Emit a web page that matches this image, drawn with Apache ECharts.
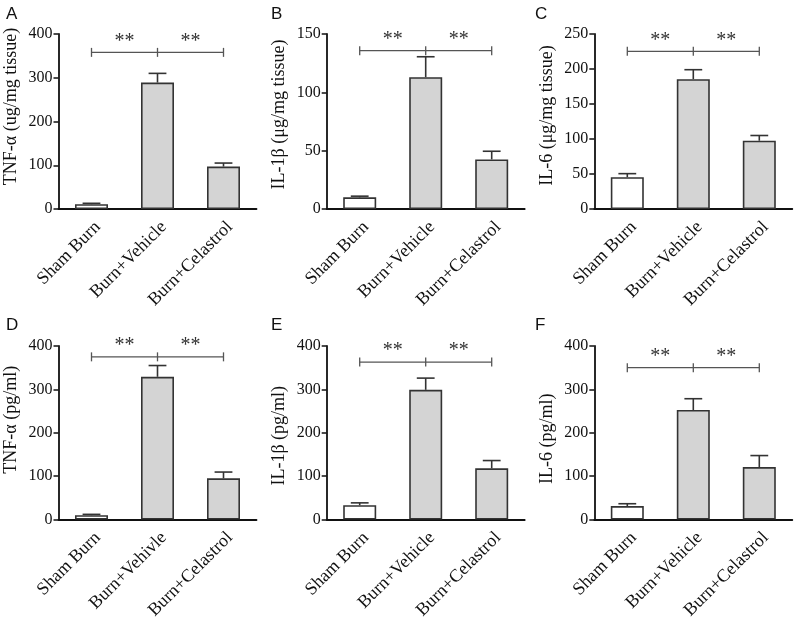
<!DOCTYPE html>
<html>
<head>
<meta charset="utf-8">
<script src="https://cdn.jsdelivr.net/npm/echarts@6/dist/echarts.min.js"></script>
<style>html,body{margin:0;padding:0;background:#fff}#c{width:800px;height:622px}</style>
</head>
<body>
<div id="c"></div>
<script>
// ---- data ----
const catsTop = ['Sham Burn', 'Burn+Vehicle', 'Burn+Celastrol'];
const catsD = ['Sham Burn', 'Burn+Vehivle', 'Burn+Celastrol'];
const catsEF = ['Sham Burn', 'Burn+Vehicle', 'Burn+Celastrol'];

const meanA = [11, 289, 97];     const upperA = [13, 310, 105];
const meanB = [10, 113, 42.5];   const upperB = [11, 130.5, 49.5];
const meanC = [45.5, 185.5, 97.5]; const upperC = [50.5, 199, 105];
const meanD = [10, 329, 95];     const upperD = [12, 355, 109.5];
const meanE = [33, 299, 118];    const upperE = [38.5, 326, 136];
const meanF = [31, 252.5, 121];  const upperF = [36.5, 278.5, 147.5];

const bracketA = 358, bracketB = 135.7, bracketC = 225.3;
const bracketD = 375, bracketE = 363, bracketF = 350;

const yMaxA = 400, yMaxB = 150, yMaxC = 250, yMaxD = 400, yMaxE = 400, yMaxF = 400;
const yStepA = 100, yStepB = 50, yStepC = 50, yStepD = 100, yStepE = 100, yStepF = 100;

const titles = ['TNF-α (ug/mg tissue)', 'IL-1β (μg/mg tissue)', 'IL-6 (μg/mg tissue)',
                'TNF-α (pg/ml)', 'IL-1β (pg/ml)', 'IL-6 (pg/ml)'];
const letters = ['A', 'B', 'C', 'D', 'E', 'F'];
const sigMark = '**';

// ---- layout ----
const panels = [
  {cats: catsTop, mean: meanA, upper: upperA, br: bracketA, max: yMaxA, step: yStepA},
  {cats: catsTop, mean: meanB, upper: upperB, br: bracketB, max: yMaxB, step: yStepB},
  {cats: catsTop, mean: meanC, upper: upperC, br: bracketC, max: yMaxC, step: yStepC},
  {cats: catsD, mean: meanD, upper: upperD, br: bracketD, max: yMaxD, step: yStepD},
  {cats: catsEF, mean: meanE, upper: upperE, br: bracketE, max: yMaxE, step: yStepE},
  {cats: catsEF, mean: meanF, upper: upperF, br: bracketF, max: yMaxF, step: yStepF}
];
const colLeft = [58.5, 326.7, 594.3];
const rowTop = [34, 346];
const gw = 198, gh = 175;
const letterPos = [[12, 15], [277, 15], [541, 15], [12, 326], [277, 326], [541, 326]];
const titleShiftUp = [15, 7, 6, 13, -3, -6];

const SERIF = '"Liberation Serif", "Times New Roman", serif';
const SANS = '"Liberation Sans", Arial, sans-serif';

const grid = [], xAxis = [], yAxis = [], series = [], graphic = [];
panels.forEach((p, i) => {
  const c = i % 3, r = Math.floor(i / 3);
  const s = titleShiftUp[i];
  const pad = s >= 0 ? [0, 0, 0, 2 * s] : [0, -2 * s, 0, 0];
  grid.push({left: colLeft[c], top: rowTop[r], width: gw, height: gh, containLabel: false});
  xAxis.push({
    type: 'category', gridIndex: i, data: p.cats,
    axisLine: {lineStyle: {color: '#111', width: 1.8}},
    axisTick: {alignWithLabel: true, length: 5, lineStyle: {color: '#111', width: 1.5}},
    axisLabel: {rotate: 45, margin: 9, fontFamily: SERIF, fontSize: 18, color: '#111', interval: 0,
                align: 'right', verticalAlign: 'top'}
  });
  yAxis.push({
    type: 'value', gridIndex: i, min: 0, max: p.max, interval: p.step,
    name: titles[i], nameLocation: 'middle', nameGap: 38,
    nameTextStyle: {fontFamily: SERIF, fontSize: 18, color: '#111', padding: pad},
    axisLine: {show: true, lineStyle: {color: '#111', width: 1.8}},
    axisTick: {show: true, length: 5, lineStyle: {color: '#111', width: 1.5}},
    axisLabel: {margin: 6, fontFamily: SERIF, fontSize: 16, color: '#111'},
    splitLine: {show: false}
  });
  series.push({
    type: 'bar', xAxisIndex: i, yAxisIndex: i, barWidth: '50%',
    data: p.mean.map((v, k) => ({value: v, itemStyle: {color: k === 0 ? '#ffffff' : '#d4d4d4'}})),
    itemStyle: {borderColor: '#333', borderWidth: 1.6},
    silent: true, z: 2
  });
  series.push({
    type: 'custom', xAxisIndex: i, yAxisIndex: i, silent: true, z: 3,
    data: p.mean.map((v, k) => [k, v, p.upper[k]]),
    renderItem: function (params, api) {
      const base = api.coord([api.value(0), api.value(1)]);
      const top = api.coord([api.value(0), api.value(2)]);
      const bw = api.size([1, 0])[0];
      const hw = bw * 0.135;
      const st = {stroke: '#333', lineWidth: 1.6};
      return {type: 'group', children: [
        {type: 'line', shape: {x1: base[0], y1: base[1], x2: top[0], y2: top[1]}, style: st},
        {type: 'line', shape: {x1: top[0] - hw, y1: top[1], x2: top[0] + hw, y2: top[1]}, style: st}
      ]};
    }
  });
  series.push({
    type: 'custom', xAxisIndex: i, yAxisIndex: i, silent: true, z: 4,
    data: [[0, p.br]],
    renderItem: function (params, api) {
      const y = api.value(1);
      const a = api.coord([0, y]), b = api.coord([1, y]), d = api.coord([2, y]);
      const st = {stroke: '#555', lineWidth: 1.3};
      const t = 4.5;
      const star = (x) => ({type: 'text', x: x, y: a[1] - 1,
        style: {text: sigMark, fill: '#333', font: '20px ' + SERIF, textAlign: 'center', textVerticalAlign: 'bottom'}});
      return {type: 'group', children: [
        {type: 'line', shape: {x1: a[0], y1: a[1], x2: d[0], y2: d[1]}, style: st},
        {type: 'line', shape: {x1: a[0], y1: a[1] - t, x2: a[0], y2: a[1] + t}, style: st},
        {type: 'line', shape: {x1: b[0], y1: b[1] - t, x2: b[0], y2: b[1] + t}, style: st},
        {type: 'line', shape: {x1: d[0], y1: d[1] - t, x2: d[0], y2: d[1] + t}, style: st},
        star((a[0] + b[0]) / 2), star((b[0] + d[0]) / 2)
      ]};
    }
  });
  graphic.push({type: 'text', left: letterPos[i][0] - 6, top: letterPos[i][1] - 9,
    style: {text: letters[i], font: '17px ' + SANS, fill: '#111'}});
});

const chart = echarts.init(document.getElementById('c'), null, {renderer: 'canvas'});
chart.setOption({animation: false, backgroundColor: '#fff', grid, xAxis, yAxis, series, graphic});
</script>
</body>
</html>
